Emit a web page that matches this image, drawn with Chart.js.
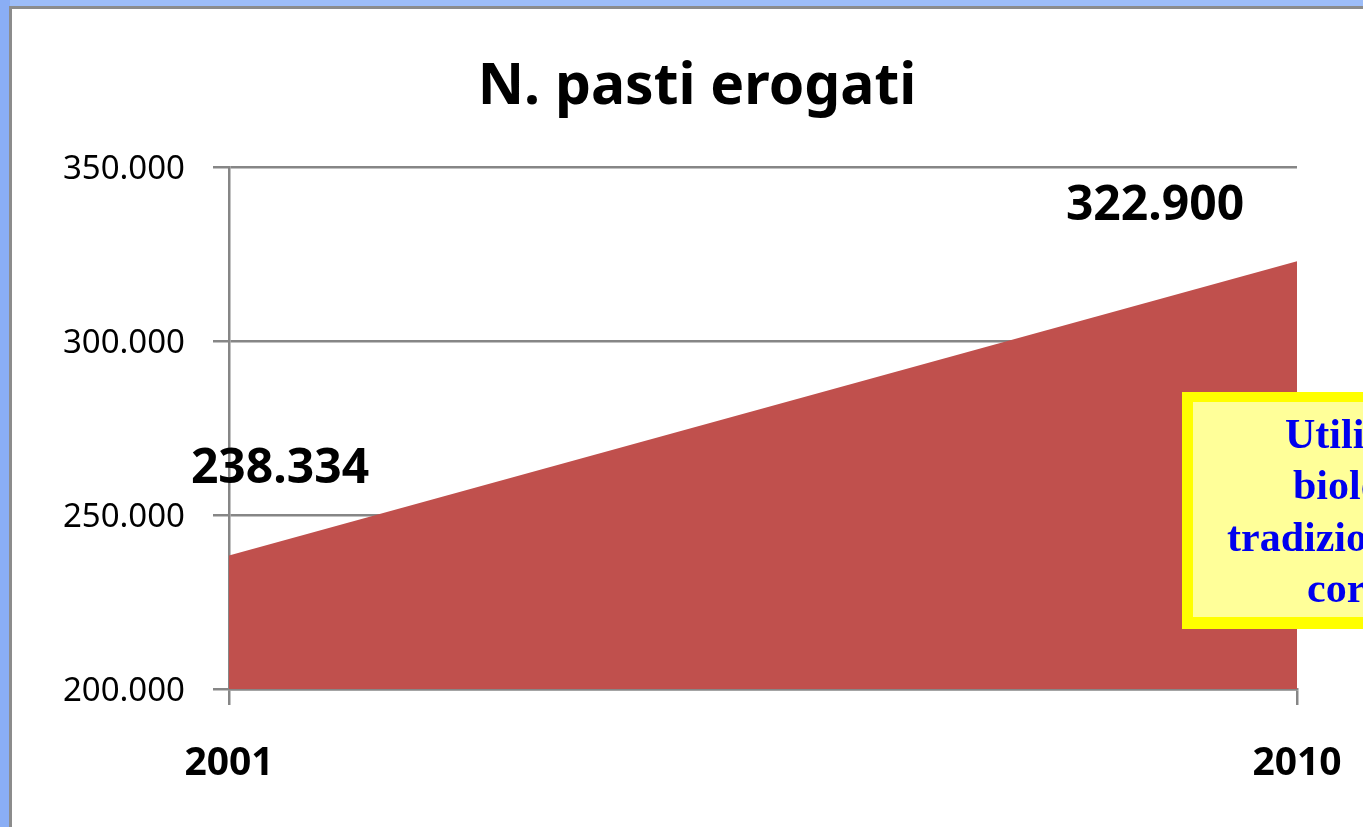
<!DOCTYPE html>
<html>
<head>
<meta charset="utf-8">
<script src="https://cdn.jsdelivr.net/npm/chart.js@4.4.0/dist/chart.umd.min.js"></script>
<style>
html,body{margin:0;padding:0;background:#fff;}
#wrap{width:1363px;height:827px;position:relative;}
</style>
</head>
<body>
<div id="wrap"><canvas id="c"></canvas></div>
<script>
const years = ['2001', '2010'];
const meals = [238334, 322900];
const yTicks = [200000, 250000, 300000, 350000];
const titleText = 'N. pasti erogati';
const noteLines = ['Utilizzo', 'biologici', 'tradizionali', 'corretti'];

function fmt(v){
  const s = Math.round(v).toString();
  return s.replace(/\B(?=(\d{3})+(?!\d))/g, '.');
}

const framePlugin = {
  id: 'frame',
  beforeDraw(chart){
    const ctx = chart.ctx;
    ctx.save();
    ctx.fillStyle = '#9dbdf8';
    ctx.fillRect(0, 0, chart.width, chart.height);
    ctx.fillStyle = '#8aaef5';
    ctx.fillRect(0, 0, 10, chart.height);
    ctx.fillStyle = '#8c8c8c';
    ctx.fillRect(9, 6, chart.width, chart.height);
    ctx.fillStyle = '#ffffff';
    ctx.fillRect(12, 9, chart.width, chart.height);
    ctx.restore();
  },
  afterDraw(chart){
    const ctx = chart.ctx;
    ctx.save();
    // title
    ctx.fillStyle = '#000';
    ctx.font = 'bold 57px "Noto Sans"';
    ctx.textAlign = 'center';
    ctx.textBaseline = 'alphabetic';
    ctx.fillText(titleText, 697, 104);
    // data labels
    const meta = chart.getDatasetMeta(0);
    const offs = [[51, -88], [-142, -56]];
    ctx.font = 'bold 48px "Noto Sans"';
    meta.data.forEach((pt, i) => {
      ctx.fillText(fmt(meals[i]), pt.x + offs[i][0], pt.y + offs[i][1] + 15);
    });
    // note box
    ctx.fillStyle = '#ffff00';
    ctx.fillRect(1182, 392, 300, 237);
    ctx.fillStyle = '#ffff99';
    ctx.fillRect(1193, 402, 300, 215);
    ctx.fillStyle = '#0000ee';
    ctx.font = 'bold 42px "Liberation Serif"';
    ctx.textAlign = 'left';
    const xs = [1285, 1293, 1227, 1307];
    const ys = [448, 499, 551, 602];
    noteLines.forEach((t, i) => ctx.fillText(t, xs[i], ys[i]));
    ctx.restore();
  }
};

new Chart(document.getElementById('c'), {
  type: 'line',
  data: {
    labels: years,
    datasets: [{
      data: meals,
      fill: 'start',
      backgroundColor: '#c0504d',
      borderWidth: 0,
      borderColor: 'rgba(0,0,0,0)',
      pointRadius: 0,
      tension: 0
    }]
  },
  options: {
    responsive: true,
    maintainAspectRatio: false,
    animation: false,
    events: [],
    layout: { padding: { top: 167, right: 66, left: 0, bottom: 0 } },
    plugins: { legend: { display: false }, title: { display: false }, tooltip: { enabled: false } },
    scales: {
      x: {
        type: 'category',
        offset: false,
        afterFit(s){ s.height = 138; s.paddingLeft = 0; s.paddingRight = 0; },
        grid: { drawOnChartArea: false, drawTicks: true, tickLength: 16, color: '#868686', lineWidth: 2.5 },
        border: { display: true, color: '#868686', width: 2.5 },
        ticks: { color: '#000', font: { family: 'Noto Sans', size: 39, weight: 'bold' }, padding: 35, maxRotation: 0, autoSkip: false }
      },
      y: {
        min: 200000,
        max: 350000,
        afterFit(s){ s.width = 229; s.paddingTop = 0; s.paddingBottom = 0; },
        afterBuildTicks(s){ s.ticks = yTicks.map(v => ({ value: v })); },
        grid: { drawOnChartArea: true, drawTicks: true, tickLength: 16, color: '#868686', lineWidth: 2.5 },
        border: { display: true, color: '#868686', width: 2.5 },
        ticks: { color: '#000', font: { family: 'Noto Sans', size: 33 }, padding: 28, labelOffset: 3, callback: v => fmt(v) }
      }
    }
  },
  plugins: [framePlugin]
});
</script>
</body>
</html>
